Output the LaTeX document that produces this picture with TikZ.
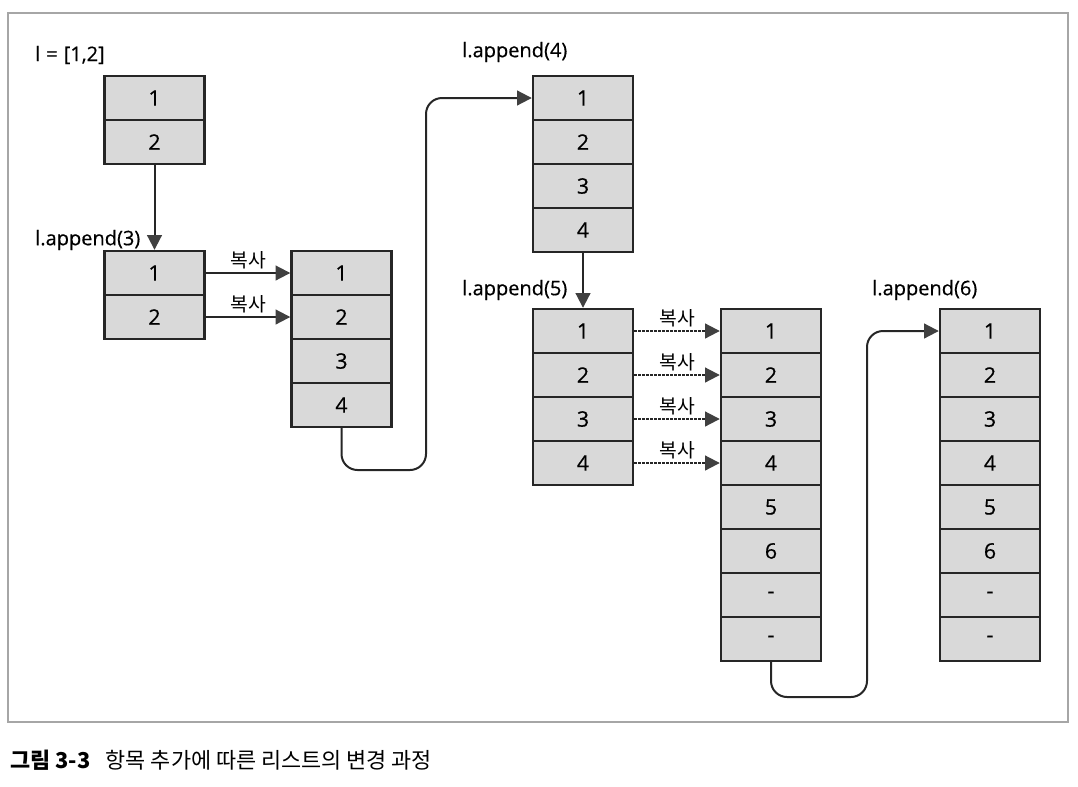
\documentclass[tikz,border=0pt]{standalone}
\usepackage{fontspec}
\setmainfont{Open Sans}[FakeBold=0.5]
\newfontfamily\cjk{Noto Sans CJK KR}
\usetikzlibrary{arrows.meta}
\definecolor{cellfill}{HTML}{D9D9D9}
\definecolor{linec}{HTML}{262626}
\definecolor{tipc}{HTML}{404040}
\begin{document}
\begin{tikzpicture}[x=0.75pt,y=-0.75pt,
  cell/.style={draw=linec, line width=1.8pt, fill=cellfill, minimum width=75pt, minimum height=33pt, inner sep=0pt, font=\fontsize{16}{18}\selectfont},
  lbl/.style={anchor=west, inner sep=0pt, font=\fontsize{15}{18}\selectfont},
  cplbl/.style={above, inner sep=2.5pt, font=\cjk\fontsize{14.5}{16}\selectfont},
  arr/.style={draw=linec, line width=1.5pt, -{Triangle[length=11pt,width=11pt,color=tipc]}},
  dotarr/.style={arr, dash pattern=on 2pt off 1pt}]
\useasboundingbox (0,0) rectangle (1078,786);
\draw[draw=gray!70, line width=0.8pt] (8,13) rectangle (1068,722);
% lists
\foreach \v [count=\i] in {1,2}
  \node[cell] (A\i) at (154.5,{98+44*(\i-1)}) {\v};
\foreach \v [count=\i] in {1,2}
  \node[cell] (B\i) at (154.5,{273+44*(\i-1)}) {\v};
\foreach \v [count=\i] in {1,2,3,4}
  \node[cell] (C\i) at (341.5,{273+44*(\i-1)}) {\v};
\foreach \v [count=\i] in {1,2,3,4}
  \node[cell] (D\i) at (583,{98+44*(\i-1)}) {\v};
\foreach \v [count=\i] in {1,2,3,4}
  \node[cell] (E\i) at (583,{331+44*(\i-1)}) {\v};
\foreach \v [count=\i] in {1,2,3,4,5,6,-,-}
  \node[cell] (F\i) at (771,{331+44*(\i-1)}) {\v};
\foreach \v [count=\i] in {1,2,3,4,5,6,-,-}
  \node[cell] (G\i) at (990,{331+44*(\i-1)}) {\v};
% labels
\node[lbl] (tA) at (35,55) {l\hspace{0.3em}=\hspace{0.3em}[1,2]};
\node[lbl] (tB) at (35,240) {l.append(3)};
\node[lbl] (tD) at (462,52) {l.append(4)};
\node[lbl] (tE) at (462,290) {l.append(5)};
\node[lbl] (tG) at (872,290) {l.append(6)};
% connectors
\draw[arr] (A2.south) -- (B1.north);
\draw[arr] (B1.east) -- node[cplbl] {복사} (C1.west);
\draw[arr] (B2.east) -- node[cplbl] {복사} (C2.west);
\coordinate (bendC) at (426,470);
\draw[arr, rounded corners=12pt] (C4.south) |- (bendC) |- (D1.west);
\draw[arr] (D4.south) -- (E1.north);
\foreach \i in {1,2,3,4}
  \draw[dotarr] (E\i.east) -- node[cplbl] {복사} (F\i.west);
\coordinate (bendF) at (867,697);
\draw[arr, rounded corners=12pt] (F8.south) |- (bendF) |- (G1.west);
% caption
\node[anchor=west, inner sep=0pt, font=\cjk\fontsize{16.4}{19}\selectfont] (cap) at (10,760) {{\bfseries 그림 3-3}\hspace{0.7em}항목 추가에 따른 리스트의 변경 과정};
\end{tikzpicture}
\end{document}
